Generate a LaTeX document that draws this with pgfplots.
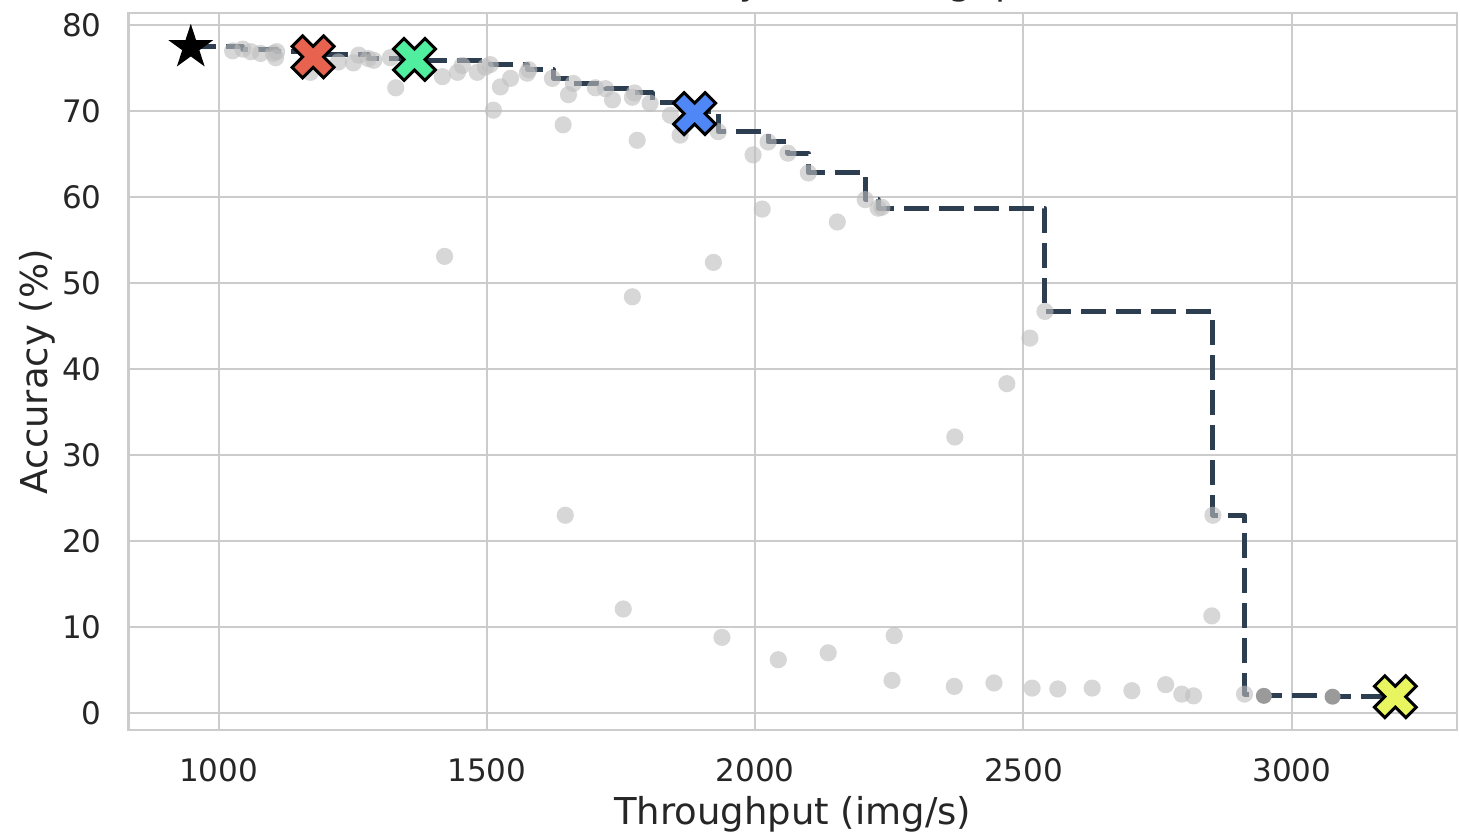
\documentclass[border=0pt]{standalone}
\usepackage{pgfplots}
\pgfplotsset{compat=1.18}
\usepackage{fontspec}
\setmainfont{DejaVu Sans}

\definecolor{gridgray}{HTML}{CCCCCC}
\definecolor{txt}{HTML}{262626}
\definecolor{front}{HTML}{2C3E50}
\definecolor{dotgray}{HTML}{BDBDBD}
\definecolor{darkdot}{HTML}{9A9A9A}
\definecolor{cred}{HTML}{E8634F}
\definecolor{cgreen}{HTML}{50EFA0}
\definecolor{cblue}{HTML}{4F87F7}
\definecolor{cyellow}{HTML}{E8F55E}

% filled "X" (a plus turned by 45 degrees)
\pgfdeclareplotmark{fatx}{%
  \pgftransformrotate{45}%
  \def\fxa{0.3333*\pgfplotmarksize}\def\fxb{\pgfplotmarksize}%
  \pgfpathmoveto{\pgfpoint{-\fxa}{-\fxb}}%
  \pgfpathlineto{\pgfpoint{\fxa}{-\fxb}}%
  \pgfpathlineto{\pgfpoint{\fxa}{-\fxa}}%
  \pgfpathlineto{\pgfpoint{\fxb}{-\fxa}}%
  \pgfpathlineto{\pgfpoint{\fxb}{\fxa}}%
  \pgfpathlineto{\pgfpoint{\fxa}{\fxa}}%
  \pgfpathlineto{\pgfpoint{\fxa}{\fxb}}%
  \pgfpathlineto{\pgfpoint{-\fxa}{\fxb}}%
  \pgfpathlineto{\pgfpoint{-\fxa}{\fxa}}%
  \pgfpathlineto{\pgfpoint{-\fxb}{\fxa}}%
  \pgfpathlineto{\pgfpoint{-\fxb}{-\fxa}}%
  \pgfpathlineto{\pgfpoint{-\fxa}{-\fxa}}%
  \pgfpathclose
  \pgfusepathqfillstroke}

% filled five-pointed star
\pgfdeclareplotmark{fstar}{%
  \pgfpathmoveto{\pgfpointpolar{90}{\pgfplotmarksize}}%
  \pgfpathlineto{\pgfpointpolar{126}{0.382*\pgfplotmarksize}}%
  \pgfpathlineto{\pgfpointpolar{162}{\pgfplotmarksize}}%
  \pgfpathlineto{\pgfpointpolar{198}{0.382*\pgfplotmarksize}}%
  \pgfpathlineto{\pgfpointpolar{234}{\pgfplotmarksize}}%
  \pgfpathlineto{\pgfpointpolar{270}{0.382*\pgfplotmarksize}}%
  \pgfpathlineto{\pgfpointpolar{306}{\pgfplotmarksize}}%
  \pgfpathlineto{\pgfpointpolar{342}{0.382*\pgfplotmarksize}}%
  \pgfpathlineto{\pgfpointpolar{18}{\pgfplotmarksize}}%
  \pgfpathlineto{\pgfpointpolar{54}{0.382*\pgfplotmarksize}}%
  \pgfpathclose
  \pgfusepathqfill}

% plain filled disc, no outline
\pgfdeclareplotmark{disc}{%
  \pgfpathcircle{\pgfpointorigin}{\pgfplotmarksize}%
  \pgfusepathqfill}

\pgfplotstableread{
x y
1026 77.0
1045 77.2
1060 76.9
1078 76.7
1102 76.7
1106 76.2
1108 76.9
1171 74.5
1173 76.6
1223 75.7
1251 75.6
1261 76.5
1279 76.1
1289 75.9
1320 76.2
1330 72.7
1357 75.9
1417 74.0
1445 74.5
1454 75.3
1482 74.5
1497 75.1
1506 75.4
1512 70.1
1525 72.8
1544 73.8
1575 74.4
1578 74.8
1622 73.8
1642 68.4
1652 71.9
1661 73.2
1702 72.7
1721 72.6
1734 71.3
1771 71.6
1775 72.1
1780 66.6
1804 70.9
1842 69.5
1860 67.2
1886 69.9
1931 67.6
1996 64.9
2013 58.6
2024 66.4
2061 65.1
2099 62.8
2153 57.1
2205 59.7
2229 58.7
2236 58.8
1421 53.1
1922 52.4
1771 48.4
2540 46.7
2512 43.6
2469 38.3
2372 32.1
1646 23.0
2853 23.0
1754 12.1
2851 11.3
1938 8.8
2259 9.0
2136 7.0
2043 6.2
2255 3.8
2371 3.1
2445 3.5
2516 2.9
2564 2.8
2628 2.9
2702 2.6
2765 3.3
2795 2.2
2817 2.0
2912 2.2
3196 1.8
}\alltrials

\pgfplotstableread{
x y
948 77.5
1045 77.2
1108 76.9
1173 76.6
1279 76.1
1357 75.9
1506 75.4
1575 74.8
1624 73.8
1661 73.2
1721 72.6
1773 72.1
1808 71.0
1886 69.9
1931 67.6
2024 66.4
2061 65.1
2099 62.8
2205 59.7
2229 58.7
2540 46.7
2853 23.0
2912 2.2
2948 2.0
3076 1.9
3196 1.8
}\frontier

\begin{document}
\begin{tikzpicture}
\begin{axis}[
  scale only axis,
  width=664pt, height=358.5pt,
  xmin=832, xmax=3308,
  ymin=-2.0, ymax=81.4,
  xtick={1000,1500,...,3000},
  ytick={0,10,...,80},
  grid=major,
  major grid style={draw=gridgray, line width=1pt},
  axis line style={draw=gridgray, line width=1.25pt},
  major tick length=0pt,
  /pgf/number format/assume math mode=true,
  /pgf/number format/1000 sep={},
  tick label style={font=\fontsize{15.5}{18}\selectfont, text=txt},
  xticklabel style={anchor=north, inner sep=0pt, yshift=-14pt},
  yticklabel style={anchor=east, inner sep=0pt, xshift=-13.25pt},
  xlabel={Throughput (img/s)},
  ylabel={Accuracy (\%)},
  label style={font=\fontsize{18.5}{22}\selectfont, text=txt},
  xlabel style={at={(axis description cs:0.5,-0.1311)}, anchor=base},
  ylabel style={at={(axis description cs:-0.06137,0.5)}, anchor=base},
  title={(b) Accuracy vs. Throughput},
  title style={at={(axis description cs:0.5,1.00837)}, anchor=base,
    font=\fontsize{18.5}{22}\selectfont, text=txt},
]
\addplot[only marks, mark=disc, mark size=4.3pt,
  mark options={fill=dotgray, fill opacity=0.6}] table {\alltrials};
\addplot[const plot, front, line width=2.5pt, dash pattern=on 12.5pt off 5pt,
  line join=round, mark=none] table {\frontier};
\addplot[only marks, mark=disc, mark size=4pt,
  mark options={fill=darkdot}] coordinates {(2948,2.0) (3076,1.9)};
\addplot[only marks, mark=fstar, mark size=11.8pt,
  mark options={fill=black}] coordinates {(948,77.4)};
\addplot[only marks, mark=fatx, mark size=11.1pt,
  mark options={fill=cred, draw=black, line width=1.5pt, line join=miter}] coordinates {(1176,76.3)};
\addplot[only marks, mark=fatx, mark size=11.1pt,
  mark options={fill=cgreen, draw=black, line width=1.5pt, line join=miter}] coordinates {(1365,76.0)};
\addplot[only marks, mark=fatx, mark size=11.1pt,
  mark options={fill=cblue, draw=black, line width=1.5pt, line join=miter}] coordinates {(1887,69.7)};
\addplot[only marks, mark=fatx, mark size=11.1pt,
  mark options={fill=cyellow, draw=black, line width=1.5pt, line join=miter}] coordinates {(3193,1.9)};
\end{axis}
\pgfresetboundingbox
\path[use as bounding box]
  ([xshift=-64.25pt,yshift=-51.5pt]current axis.south west)
  rectangle ([xshift=1.5pt,yshift=6.5pt]current axis.north east);
\end{tikzpicture}
\end{document}
